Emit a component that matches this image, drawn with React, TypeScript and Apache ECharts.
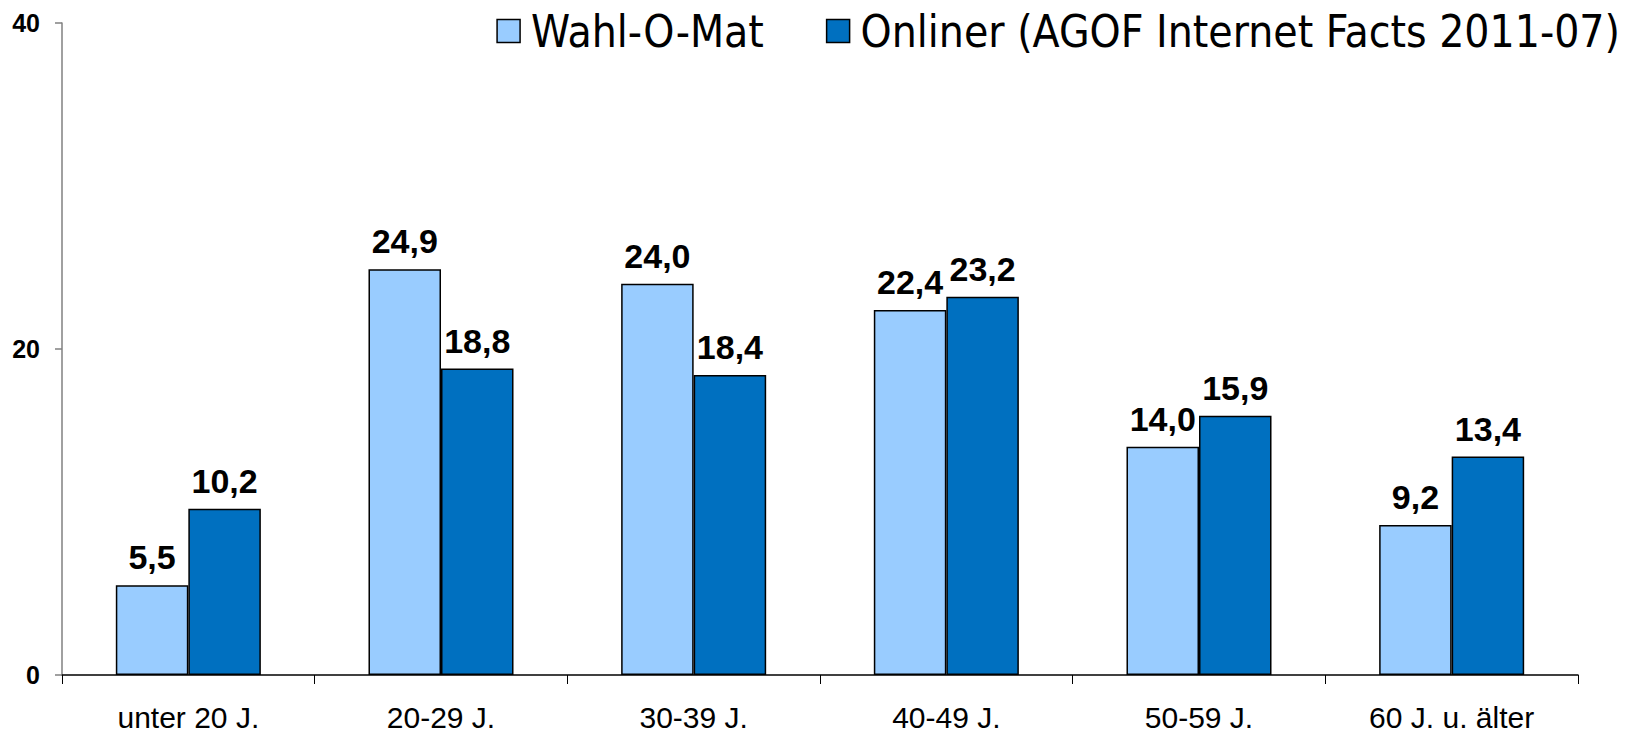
import React, { useEffect, useRef } from "react";
import * as echarts from "echarts";

const categories = ["unter 20 J.", "20-29 J.", "30-39 J.", "40-49 J.", "50-59 J.", "60 J. u. älter"];
const wahlOMat = [5.5, 24.9, 24.0, 22.4, 14.0, 9.2];
const onliner = [10.2, 18.8, 18.4, 23.2, 15.9, 13.4];
const seriesNames = ["Wahl-O-Mat", "Onliner (AGOF Internet Facts 2011-07)"];
const colors = ["#99CCFF", "#0070C0"];

const fmt = (v: number) => v.toFixed(1).replace(".", ",");

export default function App() {
  const ref = useRef<HTMLDivElement>(null);
  useEffect(() => {
    if (!ref.current) return;
    const chart = echarts.init(ref.current, null, { renderer: "svg" });
    const mk = (name: string, data: number[], color: string) => ({
      name,
      type: "bar",
      data,
      barGap: "0%",
      barCategoryGap: "42.6%",
      itemStyle: { color, borderColor: "#000", borderWidth: 1.5 },
      label: {
        show: true,
        position: "top",
        distance: 11,
        formatter: (p: any) => fmt(p.value),
        fontFamily: "Liberation Sans, Arial, sans-serif",
        fontWeight: "bold",
        fontSize: 34,
        color: "#000",
      },
    });
    chart.setOption({
      animation: false,
      backgroundColor: "#fff",
      grid: { left: 62, right: 68, top: 23, bottom: 52, containLabel: false },
      legend: {
        data: seriesNames,
        right: 21,
        top: 4,
        itemWidth: 23,
        itemHeight: 23,
        itemGap: 62,
        icon: "rect",
        textStyle: {
          fontFamily: "DejaVu Sans Condensed, DejaVu Sans",
          fontSize: 44,
          color: "#000",
          padding: [0, 0, 0, 6],
        },
        itemStyle: { borderColor: "#000", borderWidth: 1.5 },
      },
      xAxis: {
        type: "category",
        data: categories,
        axisLine: { lineStyle: { color: "#000", width: 1.5 } },
        axisTick: { show: true, length: 9, lineStyle: { color: "#000" } },
        axisLabel: {
          fontFamily: "Liberation Sans, Arial, sans-serif",
          fontSize: 30,
          color: "#000",
          margin: 27,
        },
      },
      yAxis: {
        type: "value",
        min: 0,
        max: 40,
        interval: 20,
        splitLine: { show: false },
        axisLine: { show: true, lineStyle: { color: "#808080", width: 1.5 } },
        axisTick: { show: true, length: 7, lineStyle: { color: "#808080", width: 1.5 } },
        axisLabel: {
          fontFamily: "Liberation Sans, Arial, sans-serif",
          fontWeight: "bold",
          fontSize: 25,
          color: "#000",
          margin: 22,
        },
      },
      series: [mk(seriesNames[0], wahlOMat, colors[0]), mk(seriesNames[1], onliner, colors[1])],
    });
    return () => chart.dispose();
  }, []);
  return (
    <div
      ref={ref}
      style={{ position: "absolute", left: 0, top: 0, width: 1646, height: 732 }}
    />
  );
}
